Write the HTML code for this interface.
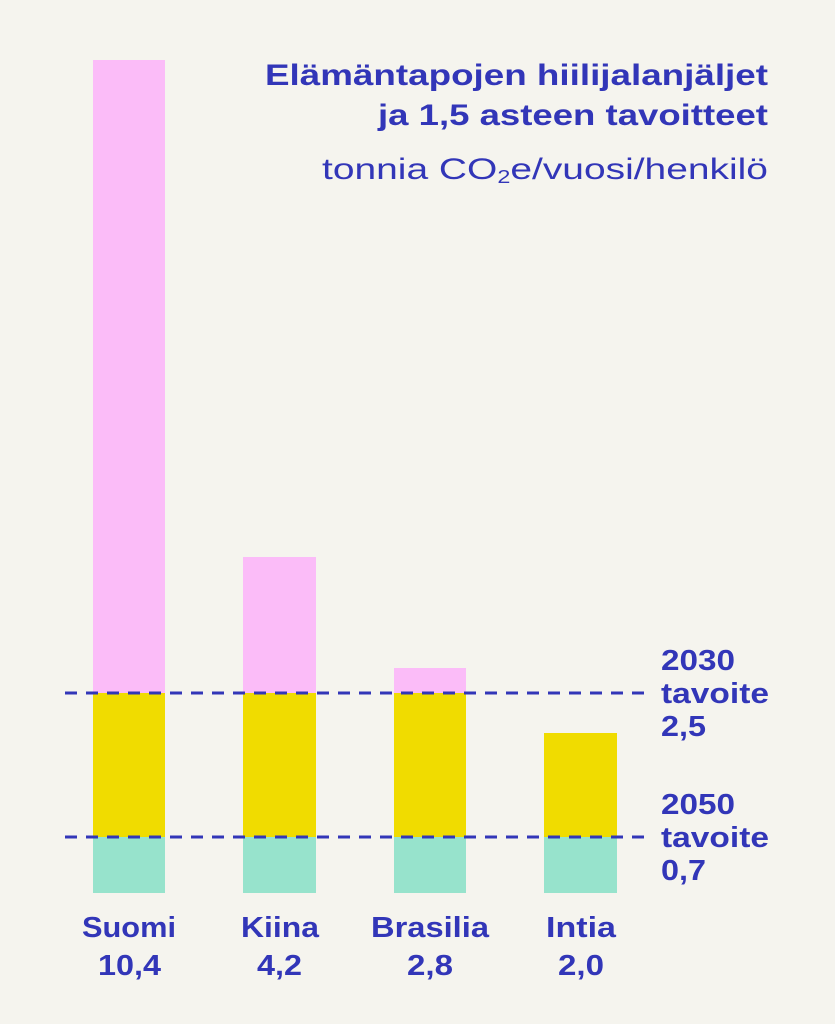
<!DOCTYPE html>
<html><head><meta charset="utf-8"><style>
html,body{margin:0;padding:0;background:#f5f4ee;}
svg{display:block;}
text{font-family:"Liberation Sans",sans-serif;fill:#3236b8;}
.b{font-weight:bold;}
</style></head><body>
<svg width="835" height="1024" viewBox="0 0 835 1024">
<rect width="835" height="1024" fill="#f5f4ee"/>
<g fill="#fbbcf8">
<rect x="93" y="60" width="72" height="633"/>
<rect x="243" y="557" width="73" height="136"/>
<rect x="394" y="668" width="72" height="25"/>
</g>
<g fill="#f0dc00">
<rect x="93" y="693" width="72" height="144"/>
<rect x="243" y="693" width="73" height="144"/>
<rect x="394" y="693" width="72" height="144"/>
<rect x="544" y="733" width="73" height="104"/>
</g>
<g fill="#97e3cc">
<rect x="93" y="837" width="72" height="56"/>
<rect x="243" y="837" width="73" height="56"/>
<rect x="394" y="837" width="72" height="56"/>
<rect x="544" y="837" width="73" height="56"/>
</g>
<g stroke="#3236b8" stroke-width="3" stroke-dasharray="12,9">
<line x1="65" y1="693" x2="650" y2="693"/>
<line x1="65" y1="837" x2="650" y2="837"/>
</g>
<text x="265" y="85" class="b" font-size="30" textLength="503" lengthAdjust="spacingAndGlyphs">Elämäntapojen hiilijalanjäljet</text>
<text x="378" y="125" class="b" font-size="30" textLength="390" lengthAdjust="spacingAndGlyphs">ja 1,5 asteen tavoitteet</text>
<text x="322" y="179" font-size="30" textLength="446" lengthAdjust="spacingAndGlyphs">tonnia CO<tspan font-size="18" dy="4">2</tspan><tspan dy="-4">e/vuosi/henkilö</tspan></text>
<g class="b" font-size="29">
<text x="661" y="670" class="b" textLength="74" lengthAdjust="spacingAndGlyphs">2030</text>
<text x="661" y="703" class="b" textLength="108" lengthAdjust="spacingAndGlyphs">tavoite</text>
<text x="661" y="736" class="b" textLength="45" lengthAdjust="spacingAndGlyphs">2,5</text>
<text x="661" y="814" class="b" textLength="74" lengthAdjust="spacingAndGlyphs">2050</text>
<text x="661" y="847" class="b" textLength="108" lengthAdjust="spacingAndGlyphs">tavoite</text>
<text x="661" y="880" class="b" textLength="45" lengthAdjust="spacingAndGlyphs">0,7</text>
</g>
<g font-size="29">
<text x="82" y="937" class="b" textLength="94" lengthAdjust="spacingAndGlyphs">Suomi</text>
<text x="98" y="975" class="b" textLength="63" lengthAdjust="spacingAndGlyphs">10,4</text>
<text x="241" y="937" class="b" textLength="78" lengthAdjust="spacingAndGlyphs">Kiina</text>
<text x="257" y="975" class="b" textLength="45" lengthAdjust="spacingAndGlyphs">4,2</text>
<text x="371" y="937" class="b" textLength="118" lengthAdjust="spacingAndGlyphs">Brasilia</text>
<text x="407" y="975" class="b" textLength="46" lengthAdjust="spacingAndGlyphs">2,8</text>
<text x="546" y="937" class="b" textLength="70" lengthAdjust="spacingAndGlyphs">Intia</text>
<text x="558" y="975" class="b" textLength="46" lengthAdjust="spacingAndGlyphs">2,0</text>
</g>
</svg>
</body></html>
